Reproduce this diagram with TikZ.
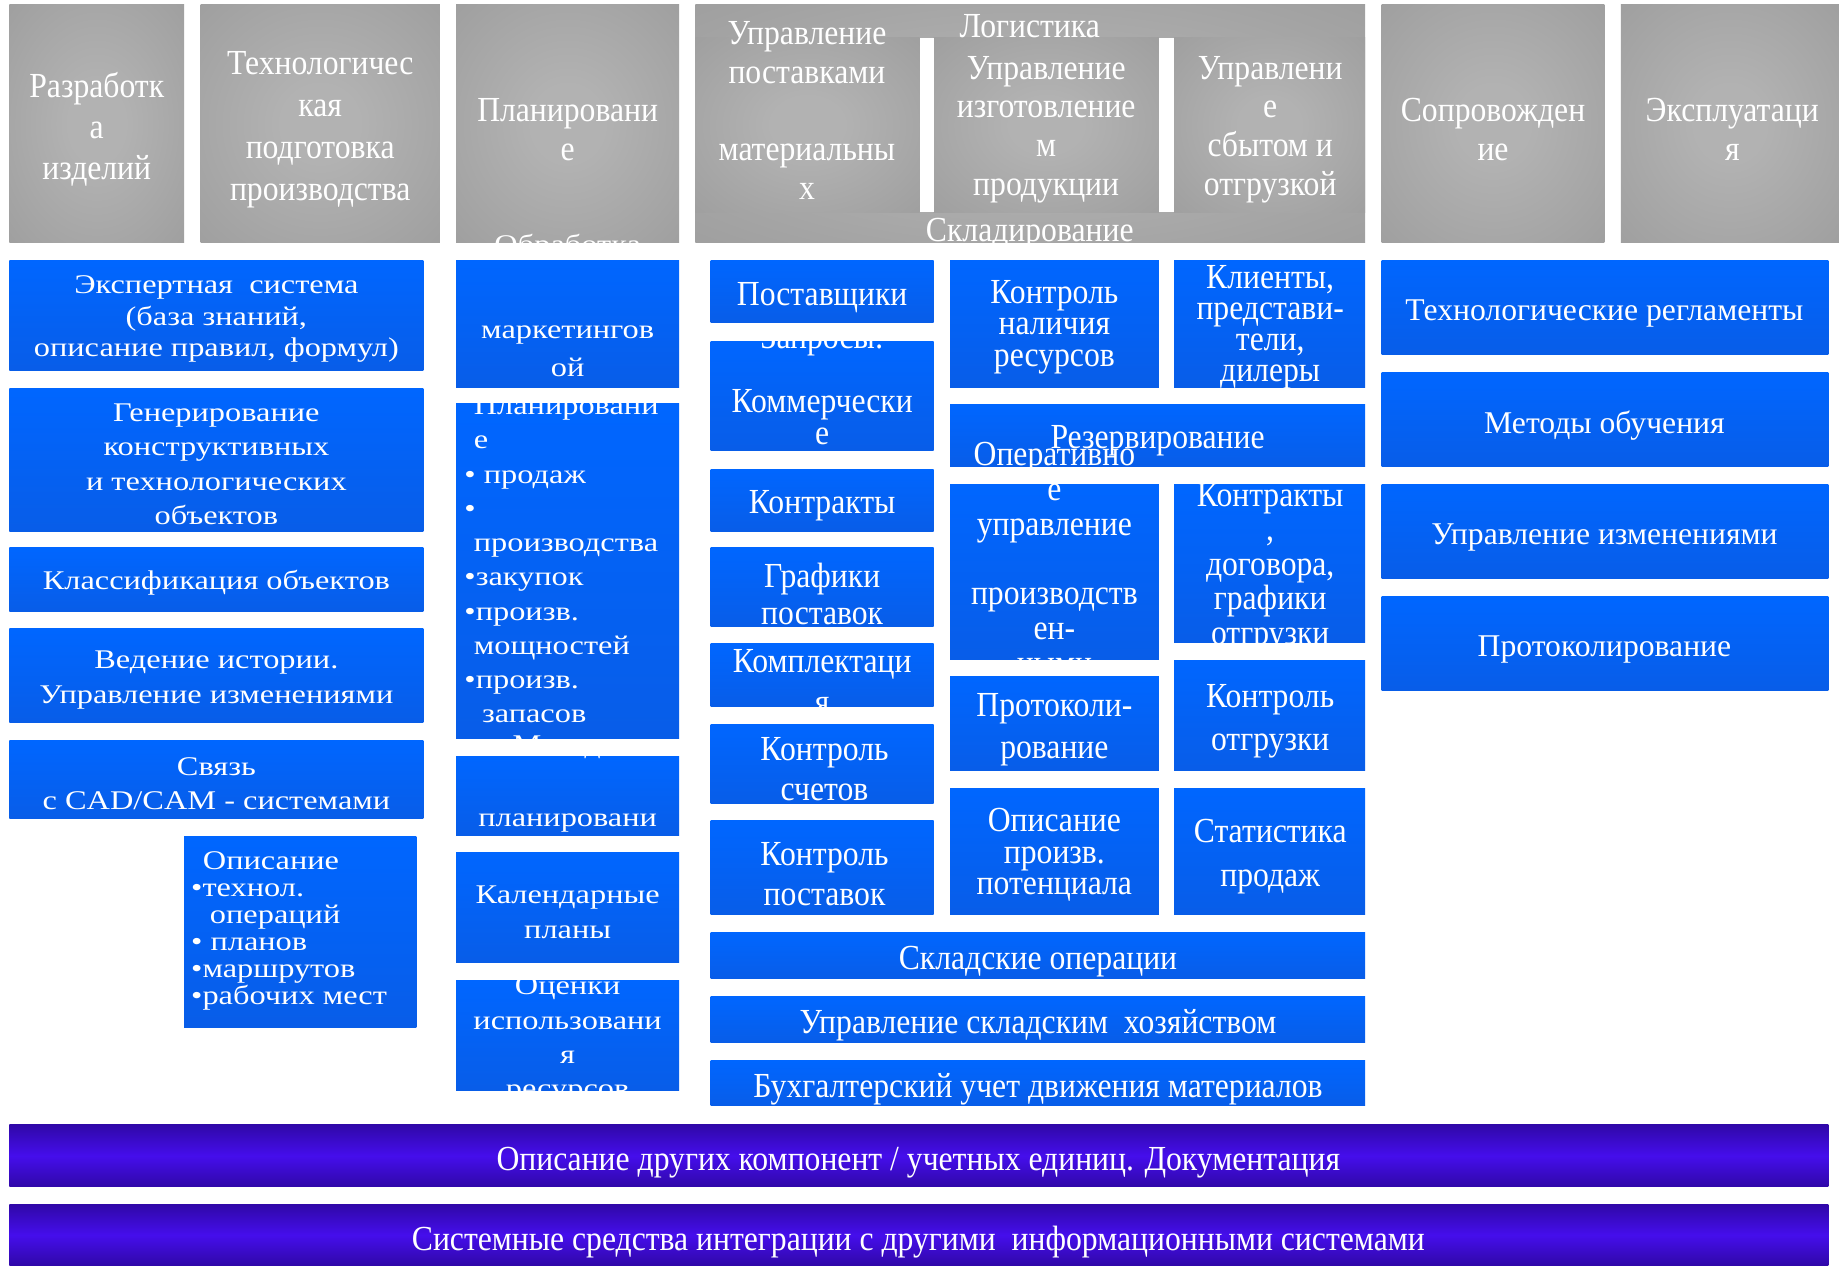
\documentclass[tikz,border=0pt]{standalone}
\usepackage{fontspec}
\setmainfont{Liberation Serif}
\newfontfamily\fcondfam[FakeStretch=0.9]{Liberation Serif}
\newfontfamily\fwidefam[FakeStretch=1.2]{Liberation Serif}
\newcommand\fcn[2]{\fcondfam\fontsize{#1}{#2}\selectfont}
\newcommand\fwd[2]{\fwidefam\fontsize{#1}{#2}\selectfont}
\newcommand\fnr[2]{\rmfamily\fontsize{#1}{#2}\selectfont}
\definecolor{gC}{HTML}{B2B2B2}
\definecolor{gE}{HTML}{929292}
\definecolor{bT}{HTML}{0066FF}
\definecolor{bB}{HTML}{085DE8}
\definecolor{pD}{HTML}{3008A8}
\definecolor{pL}{HTML}{450EEC}
\pgfdeclareradialshading{grayrad}{\pgfpoint{0bp}{0bp}}{color(0bp)=(gC); color(8bp)=(gC); color(55bp)=(gE); color(80bp)=(gE)}
\tikzset{
  box/.style={rectangle, draw=none, inner sep=0pt, outer sep=0pt, anchor=north west},
  gbox/.style={box, shade, shading=grayrad},
  bbox/.style={box, top color=bT, bottom color=bB},
  pbox/.style={box, top color=pD, bottom color=pD, middle color=pL},
  wbox/.style={box, fill=white},
  wt/.style={text=white, align=center, inner sep=0pt, outer sep=0pt, yshift=-3pt},
}
\newcommand\bx[6]{\node[#1, minimum width={#5pt-#3pt}, minimum height={#6pt-#4pt}] (#2) at (#3,#4) {};}
\begin{document}
\begin{tikzpicture}[x=1pt,y=-1pt]
\useasboundingbox[fill=white] (0,0) rectangle (1568,1079);
% ---------- headers ----------
\bx{gbox}{h1}{8}{4}{157}{207}
\node[wt, font=\fcn{30}{35}] (h1t) at (82.5,107) {Разработк\\а\\изделий};
\bx{gbox}{h2}{171}{4}{375}{207}
\node[wt, font=\fcn{30}{36}] (h2t) at (273,107.5) {Технологичес\\кая\\подготовка\\производства};
\bx{gbox}{h3}{389}{4}{579}{207}
\node[wt, font=\fcn{30}{33}] (h3t) at (484,107.5) {Планировани\\е};
\bx{gbox}{lg}{593}{4}{1164}{207}
\bx{gbox}{lg1}{593}{32}{784}{181}
\bx{gbox}{lg2}{796}{32}{988}{181}
\bx{gbox}{lg3}{1001}{32}{1164}{181}
\bx{wbox}{sep1}{784}{32}{796}{181}
\bx{wbox}{sep2}{988}{32}{1001}{181}
\node[wt, font=\fcn{30}{33}] (lgt) at (878,19) {Логистика};
\node[wt, font=\fcn{30}{33}] (skt) at (878,196) {Складирование};
\node[wt, font=\fcn{30}{33}] (lg1t) at (688,91) {Управление\\поставками\\\mbox{}\\материальны\\х};
\node[wt, font=\fcn{30}{33}] (lg2t) at (892,107.5) {Управление\\изготовление\\м\\продукции};
\node[wt, font=\fcn{30}{33}] (lg3t) at (1083,107.5) {Управлени\\е\\сбытом и\\отгрузкой};
\bx{gbox}{h5}{1178}{4}{1368}{207}
\node[wt, font=\fcn{30}{33}] (h5t) at (1273,107.5) {Сопровожден\\ие};
\bx{gbox}{h6}{1382}{4}{1568}{207}
\node[wt, font=\fcn{30}{33}] (h6t) at (1477,107.5) {Эксплуатаци\\я};
% ---------- left column ----------
\bx{bbox}{b1}{8}{222}{361}{316}
\node[wt, font=\fwd{23}{27}] (b1t) at (184.5,269) {Экспертная\ \ система\\(база знаний,\\описание правил, формул)};
\bx{bbox}{b2}{8}{331}{361}{453}
\node[wt, font=\fwd{23}{29.3}] (b2t) at (184.5,393) {Генерирование\\конструктивных\\и технологических\\объектов};
\bx{bbox}{b3}{8}{467}{361}{521}
\node[wt, font=\fwd{23}{29}] (b3t) at (184.5,494) {Классификация объектов};
\bx{bbox}{b4}{8}{536}{361}{616}
\node[wt, font=\fwd{23}{30}] (b4t) at (184.5,577) {Ведение истории.\\Управление изменениями};
\bx{bbox}{b5}{8}{631}{361}{698}
\node[wt, font=\fwd{23}{29}] (b5t) at (184.5,665.5) {Связь\\с CAD/CAM - системами};
\bx{bbox}{b6}{157}{713}{355}{876}
\node[wt, align=left, anchor=west, font=\fwd{23}{23}] (b6t) at (163,790.5) {\hspace*{10pt}Описание\\•технол.\\\hspace*{16pt}операций\\• планов\\•маршрутов\\•рабочих мест};
% ---------- planning column ----------
\bx{bbox}{p1}{389}{222}{579}{330}
\node[wt, font=\fwd{23}{32.7}] (p1t) at (484,257.5) {Обработка\\\mbox{}\\[7pt]маркетингов\\ой};
\bx{bbox}{p2}{389}{344}{579}{630}
\node[wt, align=left, anchor=west, font=\fwd{23}{29.2}] (p2t) at (396,474.5) {\hspace*{8pt}Планировани\\\hspace*{8pt}е\\• продаж\\•\\\hspace*{8pt}производства\\•закупок\\•произв.\\\hspace*{8pt}мощностей\\•произв.\\\hspace*{15pt}запасов};
\bx{bbox}{p3}{389}{645}{579}{712}
\node[wt, font=\fwd{23}{31}] (p3t) at (484,678.5) {Методы\\\mbox{}\\планировани\\я};
\bx{bbox}{p4}{389}{727}{579}{821}
\node[wt, font=\fwd{23}{30}] (p4t) at (484,775) {Календарные\\планы};
\bx{bbox}{p5}{389}{836}{579}{930}
\node[wt, font=\fwd{23}{29.3}] (p5t) at (484,884) {Оценки\\использовани\\я\\ресурсов};
% ---------- logistics: supply ----------
\bx{bbox}{l1}{606}{222}{796}{275}
\node[wt, font=\fcn{30}{30}] (l1t) at (701,251) {Поставщики};
\bx{bbox}{l2}{606}{291}{796}{384}
\node[wt, font=\fcn{30}{27.3}] (l2t) at (701,325) {Запросы:\\\mbox{}\\Коммерчески\\е};
\bx{bbox}{l3}{606}{400}{796}{453}
\node[wt, font=\fcn{30}{30}] (l3t) at (701,428) {Контракты};
\bx{bbox}{l4}{606}{467}{796}{534}
\node[wt, font=\fcn{30}{31}] (l4t) at (701,503.5) {Графики\\поставок};
\bx{bbox}{l5}{606}{549}{796}{602}
\node[wt, font=\fcn{30}{35}] (l5t) at (701,578) {Комплектаци\\я};
\bx{bbox}{l6}{606}{618}{796}{685}
\node[wt, font=\fcn{30}{34}] (l6t) at (703,653) {Контроль\\счетов};
\bx{bbox}{l7}{606}{700}{796}{780}
\node[wt, font=\fcn{30}{34}] (l7t) at (703,742) {Контроль\\поставок};
% ---------- logistics: production ----------
\bx{bbox}{m1}{810}{222}{988}{330}
\node[wt, font=\fcn{30}{26.5}] (m1t) at (899,276) {Контроль\\наличия\\ресурсов};
\bx{bbox}{s1}{1001}{222}{1164}{330}
\node[wt, font=\fcn{30}{26.7}] (s1t) at (1083,276) {Клиенты,\\представи-\\тели,\\дилеры};
\bx{bbox}{rz}{810}{345}{1164}{398}
\node[wt, font=\fcn{30}{30}] (rzt) at (987,373) {Резервирование};
\bx{bbox}{m2}{810}{413}{988}{562}
\node[wt, font=\fcn{30}{29.7}] (m2t) at (899,473) {Оперативно\\е\\управление\\\mbox{}\\производств\\ен-\\ными};
\bx{bbox}{s2}{1001}{413}{1164}{548}
\node[wt, font=\fcn{30}{29.5}] (s2t) at (1083,481) {Контракты\\,\\договора,\\графики\\отгрузки};
\bx{bbox}{s3}{1001}{563}{1164}{657}
\node[wt, font=\fcn{30}{36}] (s3t) at (1083,612) {Контроль\\отгрузки};
\bx{bbox}{m3}{810}{577}{988}{657}
\node[wt, font=\fcn{30}{36}] (m3t) at (899,619) {Протоколи-\\рование};
\bx{bbox}{m4}{810}{672}{988}{780}
\node[wt, font=\fcn{30}{27}] (m4t) at (899,726) {Описание\\произв.\\потенциала};
\bx{bbox}{s4}{1001}{672}{1164}{780}
\node[wt, font=\fcn{30}{37}] (s4t) at (1083,727.5) {Статистика\\продаж};
% ---------- logistics: wide ----------
\bx{bbox}{w1}{606}{795}{1164}{834}
\node[wt, font=\fcn{30}{30}] (w1t) at (885,817) {Складские операции};
\bx{bbox}{w2}{606}{850}{1164}{889}
\node[wt, font=\fcn{30}{30}] (w2t) at (885,871) {Управление складским\ \ хозяйством};
\bx{bbox}{w3}{606}{904}{1164}{943}
\node[wt, font=\fcn{30}{30}] (w3t) at (885,926) {Бухгалтерский учет движения материалов};
% ---------- right column ----------
\bx{bbox}{e1}{1178}{222}{1559}{302}
\node[wt, font=\fnr{27}{30}] (e1t) at (1368,264) {Технологические регламенты};
\bx{bbox}{e2}{1178}{318}{1559}{398}
\node[wt, font=\fnr{27}{30}] (e2t) at (1368,360) {Методы обучения};
\bx{bbox}{e3}{1178}{413}{1559}{493}
\node[wt, font=\fnr{27}{30}] (e3t) at (1368,455) {Управление изменениями};
\bx{bbox}{e4}{1178}{509}{1559}{589}
\node[wt, font=\fnr{27}{30}] (e4t) at (1368,551) {Протоколирование};
% ---------- bottom bars ----------
\bx{pbox}{f1}{8}{959}{1559}{1012}
\node[wt, font=\fcn{30}{30}] (f1t) at (783,988) {Описание других компонент / учетных единиц. Документация};
\bx{pbox}{f2}{8}{1027}{1559}{1079}
\node[wt, font=\fcn{30}{30}] (f2t) at (783,1056) {Системные средства интеграции с другими\ \ информационными системами};
\end{tikzpicture}
\end{document}
